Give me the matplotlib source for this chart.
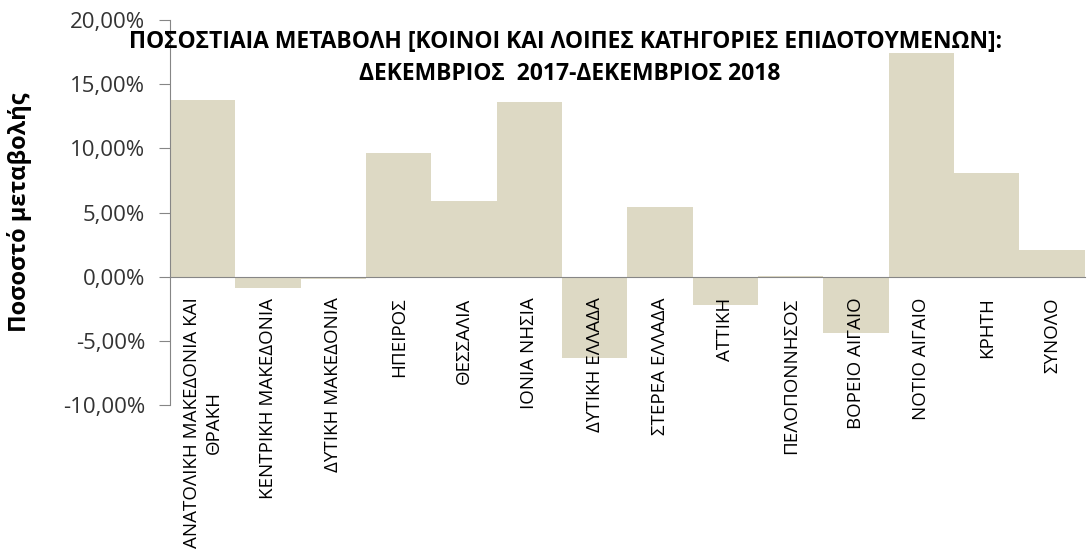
import matplotlib.pyplot as plt
from matplotlib.ticker import FuncFormatter, MultipleLocator

plt.rcParams['font.family'] = ['Open Sans', 'DejaVu Sans']

regions = [
    'ΑΝΑΤΟΛΙΚΗ ΜΑΚΕΔΟΝΙΑ ΚΑΙ\nΘΡΑΚΗ',
    'ΚΕΝΤΡΙΚΗ ΜΑΚΕΔΟΝΙΑ',
    'ΔΥΤΙΚΗ ΜΑΚΕΔΟΝΙΑ',
    'ΗΠΕΙΡΟΣ',
    'ΘΕΣΣΑΛΙΑ',
    'ΙΟΝΙΑ ΝΗΣΙΑ',
    'ΔΥΤΙΚΗ ΕΛΛΑΔΑ',
    'ΣΤΕΡΕΑ ΕΛΛΑΔΑ',
    'ΑΤΤΙΚΗ',
    'ΠΕΛΟΠΟΝΝΗΣΟΣ',
    'ΒΟΡΕΙΟ ΑΙΓΑΙΟ',
    'ΝΟΤΙΟ ΑΙΓΑΙΟ',
    'ΚΡΗΤΗ',
    'ΣΥΝΟΛΟ',
]
change_pct = [13.79, -0.92, -0.20, 9.65, 5.86, 13.63, -6.30,
              5.40, -2.19, 0.05, -4.39, 17.41, 8.04, 2.08]

title_lines = ['ΠΟΣΟΣΤΙΑΙΑ ΜΕΤΑΒΟΛΗ [ΚΟΙΝΟΙ ΚΑΙ ΛΟΙΠΕΣ ΚΑΤΗΓΟΡΙΕΣ ΕΠΙΔΟΤΟΥΜΕΝΩΝ]:',
               'ΔΕΚΕΜΒΡΙΟΣ  2017-ΔΕΚΕΜΒΡΙΟΣ 2018']

fig = plt.figure(figsize=(10.87, 5.59), dpi=100)
ax = fig.add_axes([0.1564, 0.2755, 0.8416, 0.6887])

x = list(range(len(regions)))
ax.bar(x, change_pct, width=1.0, color='#DDD9C4', edgecolor='none', zorder=1)

ax.set_xlim(-0.5, len(regions) - 0.5)
ax.set_ylim(-10, 20)
ax.yaxis.set_major_locator(MultipleLocator(5))
ax.yaxis.set_major_formatter(FuncFormatter(lambda v, p: f'{v:.2f}%'.replace('.', ',')))

for s in ['top', 'right']:
    ax.spines[s].set_visible(False)
ax.spines['left'].set_color('#868686')
ax.spines['bottom'].set_color('#868686')
ax.spines['bottom'].set_position(('data', 0))
ax.spines['bottom'].set_zorder(3)
ax.xaxis.set_zorder(4)

ax.tick_params(axis='y', direction='out', length=8, color='#868686',
               labelsize=16, labelcolor='#333333', pad=10)
ax.set_xticks(x)
ax.set_xticklabels(regions, rotation=90, fontsize=13.5, ha='center', va='top',
                   multialignment='center', linespacing=1.3)
ax.tick_params(axis='x', length=0, pad=15, labelcolor='black')

ax.set_ylabel('Ποσοστό μεταβολής', fontsize=17, fontweight='bold', labelpad=22)

# title drawn as two lines over the plot area
fig.text(0.52, 0.9141, title_lines[0], ha='center', va='baseline', fontsize=16.5,
         fontweight='bold')
fig.text(0.524, 0.8569, title_lines[1], ha='center', va='baseline', fontsize=16.5,
         fontweight='bold')

fig.savefig('out.png', dpi=100)
